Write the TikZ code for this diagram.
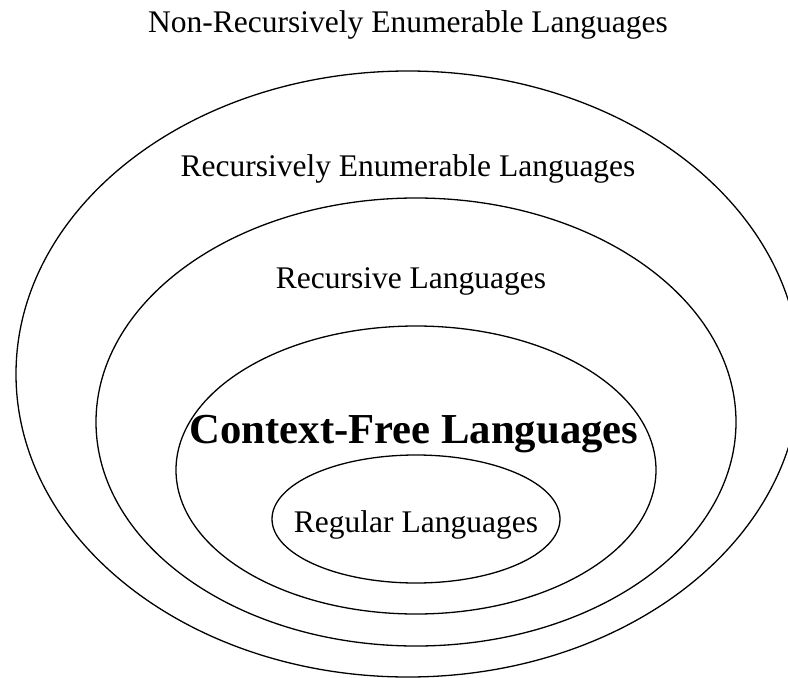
\documentclass[tikz,border=0pt]{standalone}
\usepackage{fontspec}
\setmainfont{Liberation Serif}
\begin{document}
\begin{tikzpicture}[x=1pt,y=-1pt,
  ring/.style={draw=black,line width=1.3pt},
  lbl/.style={anchor=base,inner sep=0pt,font=\fontsize{31.5}{36}\selectfont},
  biglbl/.style={anchor=base,inner sep=0pt,font=\fontsize{42.7}{48}\selectfont\bfseries}]
\useasboundingbox (0,0) rectangle (788,678);
\fill[white] (0,0) rectangle (788,678);
\draw[ring] (408,374) ellipse [x radius=392, y radius=303];
\draw[ring] (416,422) ellipse [x radius=320, y radius=224];
\draw[ring] (416,470) ellipse [x radius=240, y radius=144];
\draw[ring] (416,519) ellipse [x radius=144, y radius=64];
\node[lbl] (nre) at (408,32) {Non-Recursively Enumerable Languages};
\node[lbl] (re) at (408,176) {Recursively Enumerable Languages};
\node[lbl] (rec) at (411,288) {Recursive Languages};
\node[biglbl] (cf) at (414,443) {Context-Free Languages};
\node[lbl] (reg) at (416,532) {Regular Languages};
\end{tikzpicture}
\end{document}
